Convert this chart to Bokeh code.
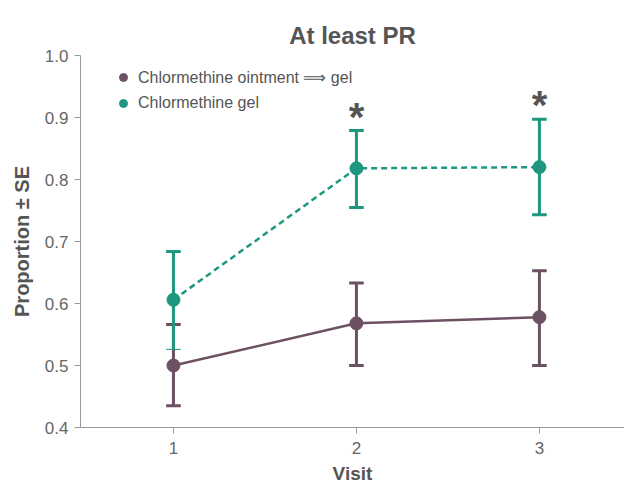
from bokeh.plotting import figure
from bokeh.models import ColumnDataSource, Legend, LegendItem, FixedTicker, CustomJSTickFormatter
from bokeh.core.properties import value
from bokeh.embed import file_html
from bokeh.resources import INLINE

visits = [1, 2, 3]
ointment_mean = [0.500, 0.568, 0.578]
ointment_lower = [0.435, 0.500, 0.500]
ointment_upper = [0.566, 0.633, 0.653]
gel_mean = [0.606, 0.818, 0.820]
gel_lower = [0.526, 0.755, 0.743]
gel_upper = [0.684, 0.879, 0.897]
sig_visits = [2, 3]
y_ticks = [0.4, 0.5, 0.6, 0.7, 0.8, 0.9, 1.0]

PURPLE = "#6c5162"
GREEN = "#1e9680"
GREY = "#555555"
FONT = "'Liberation Sans Narrow', 'Liberation Sans', Arial, sans-serif"

p = figure(width=624, height=489, x_range=(0.492, 3.465), y_range=(0.4, 1.0),
           output_backend="svg", toolbar_location=None,
           min_border_left=80, min_border_right=0, min_border_top=55, min_border_bottom=62)
p.title.text = "At least PR"
p.title.align = "center"
p.title.vertical_align = "top"
p.title.text_font = FONT
p.title.text_font_size = "24px"
p.title.text_font_style = "bold"
p.title.text_color = GREY
p.title.standoff = 10
p.grid.visible = False
p.outline_line_color = None

for ax in (p.xaxis[0], p.yaxis[0]):
    ax.axis_line_color = "#9a9a9a"
    ax.major_tick_line_color = "#9a9a9a"
    ax.minor_tick_line_color = None
    ax.major_tick_in = 0
    ax.major_tick_out = 6
    ax.major_label_text_font = FONT
    ax.major_label_text_font_size = "17px"
    ax.major_label_text_color = "#666666"
    ax.axis_label_text_font = FONT
    ax.axis_label_text_font_style = "bold"
    ax.axis_label_text_color = GREY

p.xaxis.ticker = FixedTicker(ticks=visits)
p.xaxis.major_label_standoff = 8
p.xaxis.axis_label = "Visit"
p.xaxis.axis_label_standoff = 6
p.xaxis.axis_label_text_font_size = "19px"
p.yaxis.ticker = FixedTicker(ticks=y_ticks)
p.yaxis.formatter = CustomJSTickFormatter(code="return tick.toFixed(1);")
p.yaxis.major_label_standoff = 6
p.yaxis.axis_label = "Proportion ± SE"
p.yaxis.axis_label_standoff = 9
p.yaxis.axis_label_text_font_size = "20px"

cap = 0.04

def error_bars(x, lo, hi, color, lower_cap_widths, upper_cap_widths):
    src = ColumnDataSource(dict(
        x=x, lo=lo, hi=hi,
        xl=[v - cap for v in x], xr=[v + cap for v in x],
        lw_lo=lower_cap_widths, lw_hi=upper_cap_widths))
    p.segment(x0="x", y0="lo", x1="x", y1="hi", source=src, line_color=color, line_width=3)
    p.segment(x0="xl", y0="hi", x1="xr", y1="hi", source=src, line_color=color, line_width="lw_hi")
    p.segment(x0="xl", y0="lo", x1="xr", y1="lo", source=src, line_color=color, line_width="lw_lo")

error_bars(visits, ointment_lower, ointment_upper, PURPLE, [3, 3, 3], [3, 3, 3])
error_bars(visits, gel_lower, gel_upper, GREEN, [1, 3, 3], [3, 3, 3])

l1 = p.line(visits, ointment_mean, line_color=PURPLE, line_width=2.5)
s1 = p.scatter(visits, ointment_mean, size=13, fill_color=PURPLE, line_color=PURPLE)
l2 = p.line(visits, gel_mean, line_color=GREEN, line_width=2.5, line_dash="6 4")
s2 = p.scatter(visits, gel_mean, size=13, fill_color=GREEN, line_color=GREEN)

sig_y = [gel_upper[visits.index(v)] for v in sig_visits]
p.text(x=sig_visits, y=sig_y, text=["*"] * len(sig_visits), text_align="center",
       text_baseline="bottom", text_font=value(FONT), text_font_size="40px",
       text_font_style="bold", text_color=GREY, y_offset=8)

legend = Legend(items=[
    LegendItem(label="Chlormethine ointment \u27f9 gel", renderers=[s1]),
    LegendItem(label="Chlormethine gel", renderers=[s2]),
], location=(33, 314))
legend.border_line_color = None
legend.background_fill_alpha = 0
legend.label_text_font = FONT
legend.label_text_font_size = "16px"
legend.label_text_color = GREY
legend.label_height = 20
legend.glyph_height = 20
legend.glyph_width = 20
legend.spacing = 6
legend.padding = 5
p.add_layout(legend, "center")

open("out.html", "w").write(file_html(p, INLINE))
